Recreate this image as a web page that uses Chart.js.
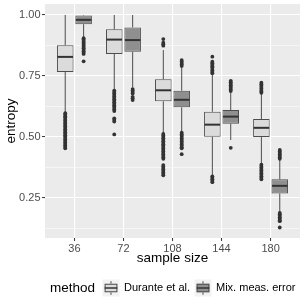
<!DOCTYPE html>
<html>
<head>
<meta charset="utf-8">
<script src="https://cdn.jsdelivr.net/npm/chart.js@4.4.1/dist/chart.umd.min.js"></script>
<style>
  html, body { margin: 0; padding: 0; background: #fff; }
  #wrap { width: 305px; height: 305px; }
</style>
</head>
<body>
<div id="wrap"><canvas id="chart"></canvas></div>
<script>
// sample sizes on the x axis
const categories = ['36', '72', '108', '144', '180'];
const methods = ['Durante et al.', 'Mix. meas. error'];
const yTicks = [0.125, 0.25, 0.375, 0.5, 0.625, 0.75, 0.875, 1.0];

// Durante et al.
const duranteLow    = [0.600, 0.695, 0.516, 0.343, 0.391];
const duranteQ1     = [0.766, 0.840, 0.646, 0.500, 0.499];
const duranteMedian = [0.828, 0.899, 0.691, 0.550, 0.537];
const duranteQ3     = [0.876, 0.941, 0.736, 0.603, 0.573];
const duranteHigh   = [1.000, 1.000, 0.856, 0.756, 0.678];
const duranteOutliers = [
  [0.597, 0.591, 0.585, 0.579, 0.573, 0.567, 0.561, 0.555, 0.549, 0.543, 0.537, 0.531, 0.525,
   0.519, 0.513, 0.507, 0.501, 0.495, 0.489, 0.483, 0.477, 0.471, 0.465, 0.459, 0.453],
  [0.690, 0.684, 0.678, 0.672, 0.666, 0.660, 0.654, 0.648, 0.642, 0.636, 0.630, 0.624, 0.618,
   0.612, 0.606, 0.576, 0.570, 0.563, 0.510],
  [0.901, 0.886, 0.880, 0.874, 0.512, 0.506, 0.500, 0.494, 0.488, 0.482, 0.476, 0.470, 0.464,
   0.458, 0.452, 0.446, 0.440, 0.434, 0.428, 0.422, 0.416, 0.410, 0.384, 0.378, 0.372, 0.366,
   0.360, 0.354, 0.348, 0.342],
  [0.829, 0.808, 0.802, 0.796, 0.790, 0.784, 0.778, 0.772, 0.766, 0.761, 0.338, 0.332, 0.326,
   0.320, 0.314],
  [0.722, 0.716, 0.710, 0.704, 0.698, 0.692, 0.686, 0.681, 0.386, 0.380, 0.374, 0.368, 0.362,
   0.356, 0.350, 0.344, 0.338, 0.332, 0.326]
];

// Mix. meas. error
const mixLow    = [0.910, 0.703, 0.521, 0.487, 0.193];
const mixQ1     = [0.962, 0.849, 0.621, 0.554, 0.268];
const mixMedian = [0.980, 0.897, 0.652, 0.583, 0.299];
const mixQ3     = [0.998, 0.949, 0.689, 0.610, 0.326];
const mixHigh   = [1.000, 1.000, 0.787, 0.682, 0.405];
const mixOutliers = [
  [0.905, 0.899, 0.893, 0.887, 0.881, 0.875, 0.869, 0.863, 0.857, 0.851, 0.845, 0.840, 0.810],
  [0.696, 0.690, 0.684, 0.678, 0.664, 0.658, 0.651],
  [0.815, 0.809, 0.803, 0.797, 0.791, 0.517, 0.511, 0.505, 0.499, 0.493, 0.487, 0.481, 0.475,
   0.469, 0.463, 0.457, 0.453, 0.429],
  [0.730, 0.724, 0.718, 0.712, 0.706, 0.700, 0.694, 0.688, 0.455],
  [0.446, 0.440, 0.434, 0.428, 0.422, 0.416, 0.410, 0.188, 0.182, 0.176, 0.170, 0.164, 0.158,
   0.154, 0.128]
];

const FONT = '"Liberation Sans", Arial, sans-serif';
const fills = ['#dbdbdb', '#8f8f8f'];
const edge = '#4d4d4d';

const series = [
  { low: duranteLow, q1: duranteQ1, med: duranteMedian, q3: duranteQ3, high: duranteHigh, out: duranteOutliers },
  { low: mixLow, q1: mixQ1, med: mixMedian, q3: mixQ3, high: mixHigh, out: mixOutliers }
];

function isMajor(v) {
  return Math.abs(v * 4 - Math.round(v * 4)) < 1e-9;
}

// grey panel behind the grid
const panelPlugin = {
  id: 'panel',
  beforeDraw(chart) {
    const a = chart.chartArea, ctx = chart.ctx;
    ctx.save();
    ctx.fillStyle = '#ebebeb';
    ctx.fillRect(a.left, a.top, a.right - a.left, a.bottom - a.top);
    ctx.restore();
  }
};

// whiskers, medians and outliers on top of the floating bars
const boxPlugin = {
  id: 'boxes',
  afterDatasetsDraw(chart) {
    const ctx = chart.ctx, ys = chart.scales.y, a = chart.chartArea;
    ctx.save();
    ctx.beginPath();
    ctx.rect(a.left, a.top, a.right - a.left, a.bottom - a.top);
    ctx.clip();
    series.forEach((s, di) => {
      const meta = chart.getDatasetMeta(di);
      meta.data.forEach((bar, i) => {
        const cx = bar.x, w = bar.width;
        ctx.strokeStyle = edge;
        ctx.lineWidth = 1;
        ctx.beginPath();
        ctx.moveTo(cx, ys.getPixelForValue(s.q3[i]));
        ctx.lineTo(cx, ys.getPixelForValue(s.high[i]));
        ctx.moveTo(cx, ys.getPixelForValue(s.q1[i]));
        ctx.lineTo(cx, ys.getPixelForValue(s.low[i]));
        ctx.stroke();

        ctx.strokeStyle = '#333333';
        ctx.lineWidth = 2;
        ctx.beginPath();
        const my = ys.getPixelForValue(s.med[i]);
        ctx.moveTo(cx - w / 2 + 0.5, my);
        ctx.lineTo(cx + w / 2 - 0.5, my);
        ctx.stroke();

        ctx.fillStyle = '#333333';
        s.out[i].forEach(v => {
          ctx.beginPath();
          ctx.arc(cx, ys.getPixelForValue(v), 1.9, 0, Math.PI * 2);
          ctx.fill();
        });
      });
    });
    ctx.restore();
  }
};

// ggplot-style legend at the bottom
const legendPlugin = {
  id: 'ggLegend',
  afterDraw(chart) {
    const ctx = chart.ctx;
    const cy = 288;
    ctx.save();
    ctx.fillStyle = '#000';
    ctx.textBaseline = 'middle';
    ctx.textAlign = 'left';
    ctx.font = '13.5px ' + FONT;
    ctx.fillText('method', 50, cy);
    const keyX = [102.5, 194.5];
    const size = 17;
    methods.forEach((m, k) => {
      const x = keyX[k], y = cy - size / 2;
      ctx.fillStyle = '#f2f2f2';
      ctx.fillRect(x, y, size, size);
      const cx = x + size / 2;
      ctx.strokeStyle = edge;
      ctx.lineWidth = 1;
      ctx.beginPath();
      ctx.moveTo(cx, y + size * 0.1);
      ctx.lineTo(cx, y + size * 0.25);
      ctx.moveTo(cx, y + size * 0.75);
      ctx.lineTo(cx, y + size * 0.9);
      ctx.stroke();
      ctx.fillStyle = fills[k];
      ctx.fillRect(x + size * 0.125, y + size * 0.25, size * 0.75, size * 0.5);
      ctx.strokeRect(x + size * 0.125 + 0.5, y + size * 0.25 + 0.5, size * 0.75 - 1, size * 0.5 - 1);
      ctx.strokeStyle = '#333333';
      ctx.lineWidth = 1.5;
      ctx.beginPath();
      ctx.moveTo(x + size * 0.125, cy);
      ctx.lineTo(x + size * 0.875, cy);
      ctx.stroke();
      ctx.fillStyle = '#000';
      ctx.font = '11px ' + FONT;
      ctx.fillText(m, x + size + 4.5, cy);
    });
    ctx.restore();
  }
};

new Chart(document.getElementById('chart'), {
  type: 'bar',
  data: {
    datasets: series.map((s, di) => ({
      label: methods[di],
      data: categories.map((c, i) => ({ x: i + 1, y: [s.q1[i], s.q3[i]] })),
      backgroundColor: fills[di],
      borderColor: edge,
      borderWidth: 1,
      borderSkipped: false,
      categoryPercentage: 0.75,
      barPercentage: 0.9
    }))
  },
  options: {
    responsive: true,
    maintainAspectRatio: false,
    animation: false,
    layout: { padding: { top: 4, right: 5, left: 0, bottom: 37 } },
    plugins: {
      legend: { display: false },
      tooltip: { enabled: false }
    },
    scales: {
      x: {
        type: 'linear',
        min: 0.4,
        max: 5.6,
        offset: false,
        afterBuildTicks: s => { s.ticks = categories.map((c, i) => ({ value: i + 1 })); },
        afterFit: s => { s.height = 30; s.paddingLeft = 0; s.paddingRight = 0; },
        border: { display: false },
        grid: {
          offset: false,
          color: '#ffffff',
          lineWidth: 1.1,
          tickLength: 3,
          tickColor: '#333333',
          tickWidth: 1
        },
        ticks: {
          padding: 1,
          color: '#4d4d4d',
          font: { family: FONT, size: 11 },
          maxRotation: 0,
          callback: v => categories[Math.round(v) - 1]
        },
        title: {
          display: true,
          text: 'sample size',
          color: '#000',
          font: { family: FONT, size: 13.5 },
          padding: { top: 0, bottom: 2 }
        }
      },
      y: {
        min: 0.085,
        max: 1.045,
        afterBuildTicks: s => { s.ticks = yTicks.map(v => ({ value: v })); },
        afterFit: s => { s.width = 45; s.paddingTop = 0; s.paddingBottom = 0; },
        border: { display: false },
        grid: {
          color: '#ffffff',
          lineWidth: ctx => isMajor(ctx.tick.value) ? 1.1 : 0.55,
          tickLength: 3,
          tickColor: ctx => isMajor(ctx.tick.value) ? '#333333' : 'rgba(0,0,0,0)',
          tickWidth: 1
        },
        ticks: {
          padding: 1.5,
          color: '#4d4d4d',
          font: { family: FONT, size: 11 },
          callback: v => isMajor(v) ? v.toFixed(2) : ''
        },
        title: {
          display: true,
          text: 'entropy',
          color: '#000',
          font: { family: FONT, size: 13.5 },
          padding: { top: 3.5, bottom: 0 }
        }
      }
    }
  },
  plugins: [panelPlugin, boxPlugin, legendPlugin]
});
</script>
</body>
</html>
